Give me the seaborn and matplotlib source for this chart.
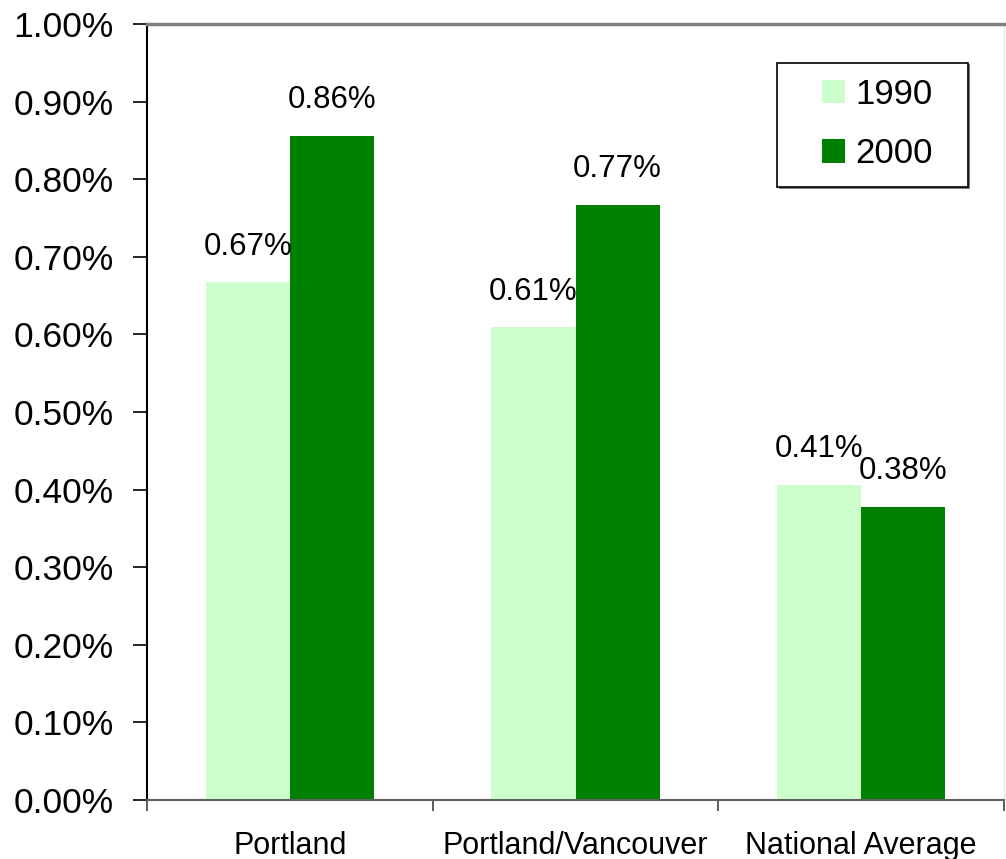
import matplotlib
matplotlib.use("Agg")
import matplotlib.pyplot as plt
import seaborn as sns
import pandas as pd
from matplotlib.ticker import FixedLocator
from matplotlib.patches import Rectangle

# data (percent)
regions = ["Portland", "Portland/Vancouver", "National Average"]
years = ["1990", "2000"]
share_1990 = [0.667, 0.609, 0.406]
share_2000 = [0.856, 0.767, 0.378]

df = pd.DataFrame({
    "region": regions * 2,
    "year": [years[0]] * 3 + [years[1]] * 3,
    "share": share_1990 + share_2000,
})

sns.set_style("white")
plt.rcParams["font.family"] = ["Liberation Sans", "DejaVu Sans"]
plt.rcParams["text.color"] = "black"
plt.rcParams["xtick.color"] = "black"
plt.rcParams["ytick.color"] = "black"

W, H = 1006, 859
fig = plt.figure(figsize=(W / 100, H / 100), dpi=100)
ax = fig.add_axes([147 / W, 1 - 800 / H, (1004 - 147) / W, (800 - 24) / H])

sns.barplot(data=df, x="region", y="share", hue="year",
            palette=["#CCFFCC", "#008000"], width=0.59, gap=0,
            saturation=1, linewidth=0, ax=ax)

# value labels above each bar
for cont in ax.containers:
    ax.bar_label(cont, fmt="%.2f%%", padding=15, fontsize=22.5, color="black")

ax.set_ylim(0, 1.0)
ax.set_xlim(-0.5, 2.5)
ax.set_yticks([i / 10 for i in range(11)])
ax.set_yticklabels([f"{i / 10:.2f}%" for i in range(11)], fontsize=25.5)
ax.tick_params(axis="y", direction="out", length=10, width=1.2, color="black",
               labelcolor="black", pad=14, left=True)

# category labels centred, ticks at group boundaries
ax.xaxis.set_minor_locator(FixedLocator([-0.5, 0.5, 1.5, 2.5]))
ax.tick_params(axis="x", which="major", length=0, pad=22, labelsize=22, labelcolor="black")
ax.tick_params(axis="x", which="minor", direction="out", length=8, width=1.2,
               color="#404040", bottom=True)
ax.set_xlabel("")
ax.set_ylabel("")

ax.spines["top"].set_color("#808080")
ax.spines["top"].set_linewidth(2.5)
ax.spines["right"].set_color("#E8E8E8")
ax.spines["right"].set_linewidth(1)
ax.spines["left"].set_color("black")
ax.spines["left"].set_linewidth(1.5)
ax.spines["bottom"].set_color("#606060")
ax.spines["bottom"].set_linewidth(1.5)

# legend box (drawn separately to get the wide side padding)
shadow = Rectangle((778.5 / W, 1 - 188.5 / H), (968 - 777) / W, (187 - 63) / H,
                   transform=fig.transFigure, facecolor="#808080", edgecolor="none",
                   clip_on=False, zorder=4)
box = Rectangle((777 / W, 1 - 187 / H), (968 - 777) / W, (187 - 63) / H,
                transform=fig.transFigure, facecolor="white", edgecolor="black",
                linewidth=1.2, clip_on=False, zorder=5)
ax.add_patch(shadow)
ax.add_patch(box)

leg = ax.legend(loc="center", bbox_to_anchor=(877 / W, 1 - 124 / H),
                bbox_transform=fig.transFigure, fontsize=25, frameon=False,
                handlelength=0.66, handleheight=0.66, handletextpad=0.3,
                labelspacing=0.75, borderpad=0, title=None)
leg.set_zorder(6)

fig.savefig("out.png", dpi=100)
